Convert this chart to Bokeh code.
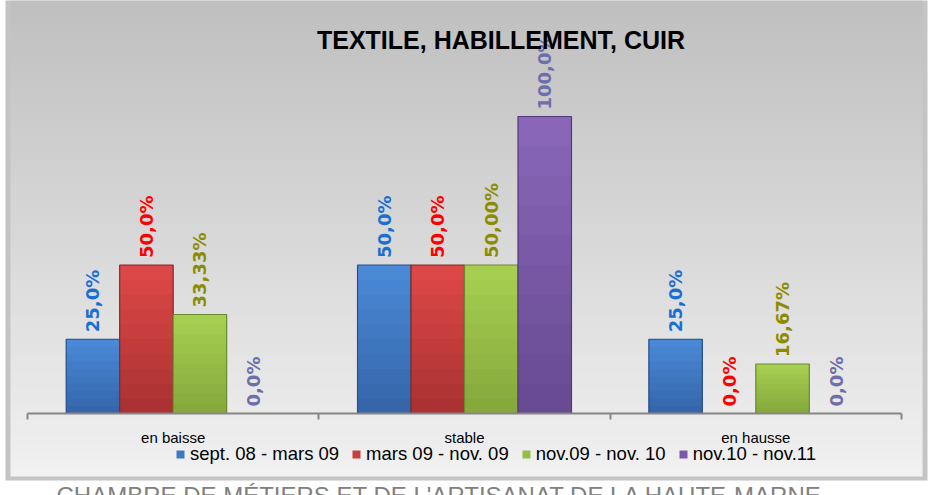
import math
from bokeh.plotting import figure
from bokeh.models import Range1d, FixedTicker, Legend, LegendItem, Label
from bokeh.core.properties import value
from bokeh.embed import file_html
from bokeh.resources import INLINE

# ---- data ----
categories = ["en baisse", "stable", "en hausse"]
series_names = ["sept. 08 - mars 09", "mars 09 - nov. 09", "nov.09 - nov. 10", "nov.10 - nov.11"]
s1 = [25.0, 50.0, 25.0]
s2 = [50.0, 50.0, 0.0]
s3 = [33.33, 50.0, 16.67]
s4 = [0.0, 100.0, 0.0]
labels1 = ["25,0%", "50,0%", "25,0%"]
labels2 = ["50,0%", "50,0%", "0,0%"]
labels3 = ["33,33%", "50,00%", "16,67%"]
labels4 = ["0,0%", "100,0%", "0,0%"]
title_text = "TEXTILE, HABILLEMENT, CUIR"
footer_text = "CHAMBRE DE MÉTIERS ET DE L'ARTISANAT DE LA HAUTE-MARNE"

series = [s1, s2, s3, s4]
series_labels = [labels1, labels2, labels3, labels4]

# ---- styles / geometry (pixels) ----
W, H = 928, 495
AXIS_LEFT_PX, AXIS_RIGHT_PX, AXIS_Y_PX = 27, 901, 413
PX_PER_PCT = 2.97
bar_bottom_colors = ["#3464a8", "#a83131", "#84a73b", "#664a91"]
bar_top_colors = ["#4b8bd8", "#df4848", "#a8d152", "#8b67ba"]
bar_mid_colors = ["#3f78c2", "#c83d3d", "#96bd47", "#7a59a6"]
bar_edge_colors = ["#2a5088", "#8a2828", "#6a8a30", "#523b78"]
label_colors = ["#1a6fd2", "#ff0000", "#8c8c00", "#6e6eaa"]
bar_w = 0.1836
N_SEG = 10
N_BG = 60

ncat = len(categories)
px_per_unit = (AXIS_RIGHT_PX - AXIS_LEFT_PX) / ncat


def dx(px):
    return (px - AXIS_LEFT_PX) / px_per_unit


def dy(py):
    return (AXIS_Y_PX - py) / PX_PER_PCT


def mix(c1, c2, t):
    a = [int(c1[i:i + 2], 16) for i in (1, 3, 5)]
    b = [int(c2[i:i + 2], 16) for i in (1, 3, 5)]
    return "#%02x%02x%02x" % tuple(round(a[k] + (b[k] - a[k]) * t) for k in range(3))


p = figure(width=W, height=H,
           x_range=Range1d(dx(0), dx(W)), y_range=Range1d(dy(H), dy(0)),
           output_backend="svg", toolbar_location=None,
           y_axis_location=None,
           min_border_left=0, min_border_right=0,
           min_border_top=0, min_border_bottom=0)
p.outline_line_color = None
p.xgrid.visible = False
p.ygrid.visible = False

# panel background: grey frame + vertical gradient
p.quad(left=[dx(5)], right=[dx(927)], top=[dy(-5)], bottom=[dy(480)],
       fill_color="#c4c4c4", line_color=None)
bg_l, bg_r, bg_b = [], [], []
bg_t, bg_c = [], []
for k in range(N_BG):
    y0 = 476 * k / N_BG
    y1 = min(476 * (k + 1) / N_BG + 1, 476)
    bg_l.append(dx(10))
    bg_r.append(dx(922))
    bg_t.append(dy(y0))
    bg_b.append(dy(y1))
    bg_c.append(mix("#bfbfbf", "#f1f1f1", (k + 0.5) / N_BG))
p.quad(left=bg_l, right=bg_r, top=bg_t, bottom=bg_b, fill_color=bg_c, line_color=None)

legend_items = []
for j, (vals, labs) in enumerate(zip(series, series_labels)):
    xs = [i + 0.5 + (j - 1.5) * bar_w for i in range(ncat)]
    base = p.vbar(x=xs, width=bar_w, top=vals, bottom=0,
                  fill_color=bar_mid_colors[j], line_color=None)
    legend_items.append(LegendItem(label=series_names[j], renderers=[base]))
    for k in range(N_SEG):
        t = (k + 0.5) / N_SEG
        bots = [v * k / N_SEG for v in vals]
        tops = [v * (k + 1) / N_SEG + (0.25 if v > 0 and k < N_SEG - 1 else 0) for v in vals]
        p.vbar(x=xs, width=bar_w, top=tops, bottom=bots,
               fill_color=mix(bar_bottom_colors[j], bar_top_colors[j], t), line_color=None)
    nz = [(x, v) for x, v in zip(xs, vals) if v > 0]
    p.vbar(x=[a for a, _ in nz], width=bar_w, top=[b for _, b in nz], bottom=0,
           fill_color=None, line_color=bar_edge_colors[j], line_width=1.2)
    p.text(x=xs, y=vals, text=labs, angle=math.pi / 2,
           text_align="left", text_baseline="middle", y_offset=-7,
           text_color=label_colors[j], text_font=value("DejaVu Sans"),
           text_font_style="bold", text_font_size="18px")

ax = p.xaxis[0]
ax.fixed_location = 0
ax.bounds = (0, ncat)
ax.ticker = FixedTicker(ticks=[i + 0.5 for i in range(ncat)],
                        minor_ticks=list(range(ncat + 1)))
ax.major_label_overrides = {i + 0.5: c for i, c in enumerate(categories)}
ax.axis_line_color = "#868686"
ax.axis_line_width = 2
ax.major_tick_line_color = None
ax.major_tick_out = 0
ax.major_tick_in = 0
ax.minor_tick_line_color = "#868686"
ax.minor_tick_line_width = 2
ax.minor_tick_out = 6
ax.minor_tick_in = 0
ax.major_label_standoff = 9
ax.major_label_text_font = "Liberation Sans"
ax.major_label_text_font_size = "15px"
ax.major_label_text_color = "#000000"

legend = Legend(items=legend_items, orientation="horizontal", location=(175, 30))
legend.label_text_font = "Liberation Sans"
legend.label_text_font_size = "18.5px"
legend.label_text_color = "#000000"
legend.glyph_width = 10
legend.glyph_height = 10
legend.label_standoff = 5
legend.spacing = 12
legend.padding = 0
legend.margin = 0
legend.border_line_color = None
legend.background_fill_alpha = 0
p.add_layout(legend)

p.add_layout(Label(x=500.5, y=H - 39, x_units="screen", y_units="screen", text=title_text,
                   text_align="center", text_baseline="middle",
                   text_font="Liberation Sans", text_font_style="bold",
                   text_font_size="25px", text_color="#000000"))
p.add_layout(Label(x=56, y=H - 481, x_units="screen", y_units="screen", text=footer_text,
                   text_align="left", text_baseline="top",
                   text_font="Liberation Sans", text_font_size="24px",
                   text_color="#808080"))

open("out.html", "w").write(file_html(p, INLINE))
